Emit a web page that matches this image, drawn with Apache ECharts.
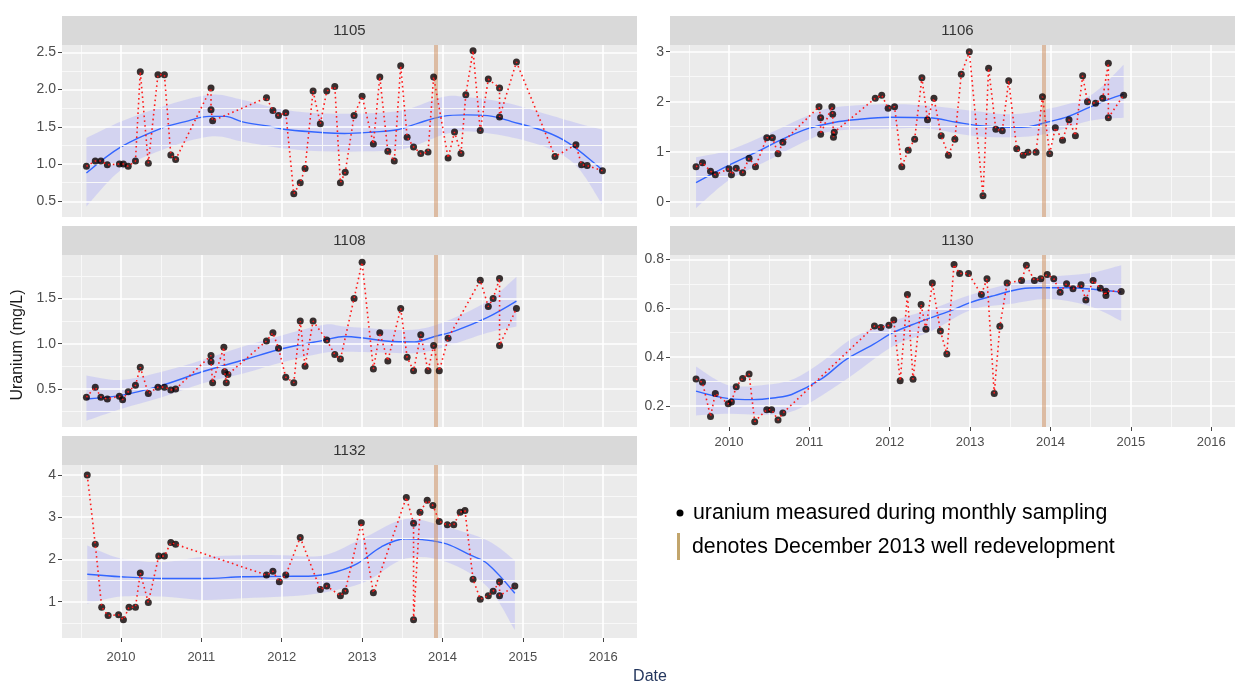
<!DOCTYPE html>
<html>
<head>
<meta charset="utf-8">
<script src="https://cdn.jsdelivr.net/npm/echarts@6/dist/echarts.min.js"></script>
<style>
  html, body { margin: 0; padding: 0; background: #ffffff; }
  #chart { width: 1235px; height: 686px; }
</style>
</head>
<body>
<div id="chart"></div>
<script>
// ---- Monthly uranium samples (decimal year, mg/L) ----
const t1105 = [2009.57,2009.68,2009.75,2009.83,2009.98,2010.03,2010.09,2010.18,2010.24,2010.34,2010.46,2010.54,2010.62,2010.68,2011.12,2011.12,2011.14,2011.81,2011.89,2011.96,2012.05,2012.15,2012.23,2012.29,2012.39,2012.48,2012.56,2012.66,2012.73,2012.79,2012.90,2013.00,2013.14,2013.22,2013.32,2013.40,2013.48,2013.56,2013.64,2013.73,2013.82,2013.89,2014.07,2014.15,2014.23,2014.29,2014.38,2014.47,2014.57,2014.71,2014.71,2014.92,2015.40,2015.66,2015.73,2015.80,2015.99];
const u1105 = [0.97,1.04,1.04,0.99,1.00,1.00,0.97,1.04,2.24,1.01,2.20,2.20,1.12,1.06,2.02,1.73,1.58,1.89,1.72,1.65,1.69,0.60,0.75,0.94,1.98,1.54,1.98,2.04,0.75,0.89,1.65,1.91,1.27,2.17,1.17,1.04,2.32,1.36,1.23,1.14,1.16,2.17,1.08,1.43,1.14,1.93,2.52,1.45,2.14,2.02,1.63,2.37,1.10,1.26,0.99,0.98,0.91];

const t1106 = [2009.59,2009.67,2009.77,2009.83,2010.00,2010.03,2010.09,2010.17,2010.25,2010.33,2010.47,2010.54,2010.61,2010.67,2011.12,2011.14,2011.14,2011.28,2011.29,2011.30,2011.31,2011.82,2011.90,2011.98,2012.06,2012.15,2012.23,2012.31,2012.40,2012.47,2012.55,2012.64,2012.73,2012.81,2012.89,2012.99,2013.16,2013.23,2013.32,2013.40,2013.48,2013.58,2013.66,2013.72,2013.82,2013.90,2013.99,2014.06,2014.15,2014.23,2014.31,2014.40,2014.46,2014.56,2014.65,2014.72,2014.72,2014.91];
const u1106 = [0.70,0.78,0.61,0.54,0.66,0.54,0.67,0.58,0.87,0.70,1.28,1.28,0.96,1.19,1.90,1.68,1.35,1.90,1.75,1.29,1.39,2.07,2.13,1.87,1.90,0.70,1.03,1.25,2.48,1.64,2.07,1.32,0.93,1.25,2.55,3.00,0.12,2.67,1.45,1.42,2.42,1.06,0.93,0.99,0.99,2.10,0.96,1.48,1.23,1.64,1.32,2.52,2.00,1.97,2.07,2.77,1.68,2.13];

const t1108 = [2009.57,2009.68,2009.75,2009.83,2009.98,2010.02,2010.09,2010.18,2010.24,2010.34,2010.46,2010.54,2010.62,2010.68,2011.12,2011.12,2011.14,2011.28,2011.29,2011.31,2011.33,2011.81,2011.89,2011.96,2012.05,2012.15,2012.23,2012.29,2012.39,2012.56,2012.66,2012.73,2012.90,2013.00,2013.14,2013.22,2013.32,2013.48,2013.56,2013.64,2013.73,2013.82,2013.89,2013.96,2014.07,2014.47,2014.57,2014.63,2014.71,2014.71,2014.92];
const u1108 = [0.41,0.52,0.41,0.39,0.42,0.38,0.47,0.54,0.74,0.45,0.52,0.52,0.49,0.50,0.87,0.80,0.57,0.96,0.69,0.57,0.66,1.03,1.12,0.95,0.63,0.57,1.25,0.75,1.25,1.04,0.88,0.83,1.50,1.90,0.72,1.12,0.81,1.39,0.85,0.70,1.10,0.70,0.98,0.70,1.06,1.70,1.41,1.50,1.72,0.98,1.39];

const t1130 = [2009.59,2009.67,2009.77,2009.83,2009.99,2010.03,2010.09,2010.17,2010.25,2010.32,2010.47,2010.53,2010.61,2010.67,2011.81,2011.89,2011.99,2012.05,2012.13,2012.22,2012.29,2012.39,2012.45,2012.53,2012.63,2012.71,2012.80,2012.87,2012.98,2013.14,2013.21,2013.30,2013.37,2013.46,2013.64,2013.70,2013.80,2013.88,2013.96,2014.04,2014.12,2014.20,2014.28,2014.38,2014.44,2014.53,2014.62,2014.69,2014.69,2014.88];
const u1130 = [0.310,0.297,0.157,0.251,0.209,0.216,0.279,0.313,0.331,0.136,0.185,0.185,0.143,0.171,0.527,0.521,0.530,0.552,0.303,0.656,0.309,0.615,0.514,0.703,0.507,0.413,0.779,0.742,0.742,0.656,0.721,0.251,0.526,0.703,0.714,0.776,0.714,0.721,0.738,0.721,0.666,0.700,0.680,0.696,0.634,0.714,0.682,0.652,0.670,0.669];

const t1132 = [2009.58,2009.68,2009.76,2009.84,2009.97,2010.03,2010.10,2010.18,2010.24,2010.34,2010.47,2010.54,2010.62,2010.68,2011.81,2011.89,2011.97,2012.05,2012.23,2012.48,2012.56,2012.73,2012.79,2012.99,2013.14,2013.55,2013.64,2013.64,2013.72,2013.81,2013.88,2013.96,2014.06,2014.14,2014.22,2014.28,2014.38,2014.47,2014.57,2014.63,2014.71,2014.71,2014.90];
const u1132 = [4.00,2.36,0.87,0.67,0.69,0.57,0.87,0.87,1.68,0.98,2.08,2.08,2.40,2.36,1.63,1.72,1.47,1.63,2.52,1.29,1.37,1.14,1.25,2.87,1.21,3.47,2.86,0.57,3.12,3.40,3.28,2.90,2.82,2.82,3.12,3.16,1.53,1.06,1.14,1.25,1.47,1.14,1.37];

// ---- Smoothed trend (loess) and its confidence band ----
const fitT1105 = [2009.57,2010.0,2010.5,2010.8,2011.1,2011.3,2011.5,2011.82,2012.08,2012.53,2012.78,2013.14,2013.44,2013.70,2014.0,2014.3,2014.56,2014.86,2015.27,2015.57,2015.99];
const fit1105  = [0.88,1.23,1.48,1.57,1.64,1.64,1.57,1.51,1.46,1.42,1.41,1.43,1.46,1.55,1.64,1.66,1.65,1.57,1.44,1.28,0.92];
const ribT1105 = [2009.57,2010.0,2010.51,2011.11,2011.52,2012.03,2012.53,2013.04,2013.54,2014.0,2014.30,2014.81,2015.32,2015.67,2015.99];
const ribLo1105 = [0.43,0.92,1.19,1.37,1.30,1.21,1.17,1.17,1.21,1.39,1.44,1.37,1.21,0.97,0.45];
const ribHi1105 = [1.35,1.57,1.77,1.93,1.86,1.73,1.68,1.68,1.73,1.90,1.90,1.82,1.66,1.55,1.46];

const fitT1106 = [2009.59,2010.0,2010.34,2010.68,2010.98,2011.32,2011.56,2012.0,2012.49,2012.83,2013.12,2013.51,2013.73,2013.95,2014.20,2014.49,2014.73,2014.91];
const fit1106  = [0.38,0.73,0.99,1.26,1.46,1.59,1.64,1.69,1.68,1.59,1.52,1.49,1.50,1.59,1.69,1.89,2.05,2.15];
const ribT1106 = [2009.59,2010.0,2010.49,2010.98,2011.32,2012.0,2012.49,2013.02,2013.51,2013.95,2014.49,2014.91];
const ribLo1106 = [-0.13,0.43,0.83,1.23,1.42,1.46,1.46,1.32,1.29,1.36,1.62,1.68];
const ribHi1106 = [0.89,1.03,1.36,1.72,1.89,1.95,1.92,1.82,1.75,1.85,2.12,2.74];

const fitT1108 = [2009.57,2010.0,2010.51,2011.01,2011.52,2012.03,2012.53,2012.78,2013.04,2013.29,2013.65,2013.90,2014.15,2014.56,2014.92];
const fit1108  = [0.39,0.43,0.54,0.69,0.82,0.95,1.04,1.08,1.06,1.03,1.02,1.08,1.14,1.29,1.47];
const ribT1108 = [2009.57,2010.0,2010.51,2011.01,2011.52,2012.03,2012.53,2012.78,2013.29,2013.70,2014.05,2014.56,2014.92];
const ribLo1108 = [0.15,0.28,0.41,0.56,0.67,0.80,0.90,0.91,0.90,0.90,0.97,1.12,1.19];
const ribHi1108 = [0.65,0.60,0.69,0.82,0.97,1.10,1.21,1.19,1.16,1.16,1.25,1.47,1.74];

const fitT1130 = [2009.59,2010.0,2010.29,2010.58,2010.78,2011.16,2011.45,2011.79,2012.04,2012.33,2012.76,2013.01,2013.30,2013.64,2013.88,2014.22,2014.56,2014.88];
const fit1130  = [0.261,0.230,0.226,0.234,0.247,0.313,0.389,0.451,0.500,0.539,0.590,0.624,0.652,0.680,0.684,0.684,0.677,0.666];
const ribT1130 = [2009.59,2010.0,2010.48,2010.82,2011.16,2011.55,2012.04,2012.52,2013.01,2013.49,2013.97,2014.46,2014.88];
const ribLo1130 = [0.161,0.168,0.164,0.182,0.244,0.330,0.445,0.507,0.593,0.617,0.638,0.611,0.548];
const ribHi1130 = [0.362,0.285,0.288,0.313,0.382,0.480,0.548,0.597,0.655,0.700,0.728,0.742,0.776];

const fitT1132 = [2009.58,2010.0,2010.51,2011.01,2011.52,2012.03,2012.38,2012.68,2012.94,2013.24,2013.54,2013.75,2014.05,2014.35,2014.56,2014.90];
const fit1132  = [1.65,1.59,1.55,1.55,1.59,1.60,1.61,1.71,1.90,2.30,2.49,2.47,2.37,2.10,1.90,1.20];
const ribT1132 = [2009.58,2010.0,2010.51,2011.01,2011.52,2012.03,2012.53,2013.04,2013.54,2014.05,2014.56,2014.90];
const ribLo1132 = [0.95,1.12,1.12,1.04,1.08,1.12,1.22,1.47,2.02,1.94,1.35,0.33];
const ribHi1132 = [2.33,2.02,1.94,2.06,2.10,2.10,2.10,2.53,2.96,2.77,2.45,1.98];

// ---- Tick labels ----
const xTickYears = [2010, 2011, 2012, 2013, 2014, 2015, 2016];
const xMinorYears = [2009.5, 2010.5, 2011.5, 2012.5, 2013.5, 2014.5, 2015.5];
const yTicks1105 = [0.5, 1.0, 1.5, 2.0, 2.5];
const yTicks1106 = [0, 1, 2, 3];
const yTicks1108 = [0.5, 1.0, 1.5];
const yTicks1130 = [0.2, 0.4, 0.6, 0.8];
const yTicks1132 = [1, 2, 3, 4];
const redevelopment = 2013.917; // December 2013 well redevelopment

// ---- Panels: data plus facet layout ----
const X_MIN = 2009.266, X_MAX = 2016.42;
const PANEL_W = 575, STRIP_H = 29;
const panels = [
  { well: '1105', t: t1105, u: u1105, fitT: fitT1105, fit: fit1105, ribT: ribT1105, ribLo: ribLo1105, ribHi: ribHi1105,
    yTicks: yTicks1105, yMinor: [0.75, 1.25, 1.75, 2.25], dec: 1,
    left: 62, top: 45, height: 172, ymin: 0.289, ymax: 2.598, showX: false, xMargin: 8 },
  { well: '1106', t: t1106, u: u1106, fitT: fitT1106, fit: fit1106, ribT: ribT1106, ribLo: ribLo1106, ribHi: ribHi1106,
    yTicks: yTicks1106, yMinor: [0.5, 1.5, 2.5], dec: 0,
    left: 670, top: 45, height: 172, ymin: -0.306, ymax: 3.134, showX: false, xMargin: 8 },
  { well: '1108', t: t1108, u: u1108, fitT: fitT1108, fit: fit1108, ribT: ribT1108, ribLo: ribLo1108, ribHi: ribHi1108,
    yTicks: yTicks1108, yMinor: [0.25, 0.75, 1.25, 1.75], dec: 1,
    left: 62, top: 255, height: 172, ymin: 0.08, ymax: 1.98, showX: false, xMargin: 8 },
  { well: '1130', t: t1130, u: u1130, fitT: fitT1130, fit: fit1130, ribT: ribT1130, ribLo: ribLo1130, ribHi: ribHi1130,
    yTicks: yTicks1130, yMinor: [0.3, 0.5, 0.7], dec: 1,
    left: 670, top: 255, height: 172, ymin: 0.114, ymax: 0.818, showX: true, xMargin: 9 },
  { well: '1132', t: t1132, u: u1132, fitT: fitT1132, fit: fit1132, ribT: ribT1132, ribLo: ribLo1132, ribHi: ribHi1132,
    yTicks: yTicks1132, yMinor: [0.5, 1.5, 2.5, 3.5], dec: 0,
    left: 62, top: 465, height: 173, ymin: 0.14, ymax: 4.237, showX: true, xMargin: 13 }
];

const FONT = "'Liberation Sans', Arial, sans-serif";
const AXIS_TEXT = '#4D4D4D';
const BAND_FILL = 'rgba(150,150,255,0.28)';

const grids = [], xAxes = [], yAxes = [], series = [], graphics = [];

panels.forEach((p, i) => {
  grids.push({
    left: p.left, top: p.top, width: PANEL_W, height: p.height,
    show: true, backgroundColor: '#EBEBEB', borderWidth: 0,
    containLabel: false, outerBoundsMode: 'none'
  });
  xAxes.push({
    gridIndex: i, type: 'value', min: X_MIN, max: X_MAX,
    axisLine: { show: false }, splitLine: { show: false },
    axisTick: { show: p.showX, customValues: xTickYears, length: 4, lineStyle: { color: '#444', width: 1 } },
    axisLabel: { show: p.showX, customValues: xTickYears, formatter: v => String(Math.round(v)),
                 color: AXIS_TEXT, fontSize: 13, fontFamily: FONT, margin: p.xMargin }
  });
  yAxes.push({
    gridIndex: i, type: 'value', min: p.ymin, max: p.ymax,
    axisLine: { show: false }, splitLine: { show: false },
    axisTick: { show: true, customValues: p.yTicks, length: 4, lineStyle: { color: '#444', width: 1 } },
    axisLabel: { show: true, customValues: p.yTicks, formatter: v => v.toFixed(p.dec),
                 color: AXIS_TEXT, fontSize: 14, fontFamily: FONT, margin: 6 }
  });

  // panel grid lines (major + minor), white on grey
  const major = { color: '#FFFFFF', width: 1.6, type: 'solid' };
  const minor = { color: '#F8F8F8', width: 1, type: 'solid' };
  series.push({
    type: 'line', xAxisIndex: i, yAxisIndex: i, data: [[X_MIN, p.ymin]], symbol: 'none',
    lineStyle: { width: 0, opacity: 0 }, silent: true, z: 1,
    markLine: {
      silent: true, symbol: ['none', 'none'], label: { show: false }, emphasis: { disabled: true },
      animation: false, lineStyle: { type: 'solid' },
      data: [
        ...xMinorYears.map(v => ({ xAxis: v, lineStyle: minor })),
        ...p.yMinor.map(v => ({ yAxis: v, lineStyle: minor })),
        ...xTickYears.map(v => ({ xAxis: v, lineStyle: major })),
        ...p.yTicks.map(v => ({ yAxis: v, lineStyle: major }))
      ]
    }
  });

  // confidence band drawn as one closed shape through the axis scales
  series.push({
    type: 'custom', xAxisIndex: i, yAxisIndex: i, silent: true, z: 2,
    data: p.ribT.map((x, k) => [x, p.ribLo[k], p.ribHi[k]]),
    encode: { x: 0, y: [1, 2] },
    renderItem: (params, api) => {
      if (params.dataIndex !== 0) return null;
      const upper = p.ribT.map((x, k) => api.coord([x, p.ribHi[k]]));
      const lower = p.ribT.map((x, k) => api.coord([x, p.ribLo[k]])).reverse();
      const rect = params.coordSys;
      return {
        type: 'group',
        clipPath: { type: 'rect', shape: { x: rect.x, y: rect.y, width: rect.width, height: rect.height } },
        children: [
          { type: 'path', shape: { pathData: bandPath(upper, lower) }, style: { fill: BAND_FILL } }
        ]
      };
    }
  });

  // redevelopment marker
  series.push({
    type: 'line', xAxisIndex: i, yAxisIndex: i, data: [[X_MIN, p.ymin]], symbol: 'none',
    lineStyle: { width: 0, opacity: 0 }, silent: true, z: 3,
    markLine: {
      silent: true, symbol: ['none', 'none'], label: { show: false }, emphasis: { disabled: true },
      animation: false,
      lineStyle: { type: 'solid', color: 'rgba(205,140,90,0.5)', width: 4 },
      data: [{ xAxis: redevelopment }]
    }
  });

  // loess trend
  series.push({
    type: 'line', xAxisIndex: i, yAxisIndex: i, data: p.fitT.map((x, k) => [x, p.fit[k]]),
    symbol: 'none', smooth: 0.35, lineStyle: { color: '#3366FF', width: 1.4 }, silent: true, z: 4
  });

  // samples
  series.push({
    type: 'scatter', xAxisIndex: i, yAxisIndex: i, data: p.t.map((x, k) => [x, p.u[k]]),
    symbol: 'circle', symbolSize: 7, itemStyle: { color: '#0A0000' }, silent: true, z: 5
  });
  series.push({
    type: 'line', xAxisIndex: i, yAxisIndex: i, data: p.t.map((x, k) => [x, p.u[k]]),
    symbol: 'none', lineStyle: { color: '#FF1A1A', width: 1.6, type: [1.6, 3.2] }, silent: true, z: 6
  });

  // facet strip
  graphics.push({
    type: 'rect', x: p.left, y: p.top - STRIP_H, shape: { x: 0, y: 0, width: PANEL_W, height: STRIP_H },
    style: { fill: '#D9D9D9' }, silent: true
  });
  graphics.push({
    type: 'text', x: p.left + PANEL_W / 2, y: p.top - STRIP_H / 2,
    style: { text: p.well, fill: '#333333', font: '15px ' + FONT, textAlign: 'center', textVerticalAlign: 'middle' },
    silent: true
  });
});

// Smooth closed outline: Catmull-Rom curves along the upper edge, straight end caps,
// Catmull-Rom back along the lower edge.
function curveTo(pts) {
  let d = '';
  for (let k = 0; k < pts.length - 1; k++) {
    const p0 = pts[Math.max(k - 1, 0)], p1 = pts[k], p2 = pts[k + 1], p3 = pts[Math.min(k + 2, pts.length - 1)];
    const c1 = [p1[0] + (p2[0] - p0[0]) / 6, p1[1] + (p2[1] - p0[1]) / 6];
    const c2 = [p2[0] - (p3[0] - p1[0]) / 6, p2[1] - (p3[1] - p1[1]) / 6];
    d += ' C' + c1[0] + ' ' + c1[1] + ' ' + c2[0] + ' ' + c2[1] + ' ' + p2[0] + ' ' + p2[1];
  }
  return d;
}
function bandPath(upper, lower) {
  return 'M' + upper[0][0] + ' ' + upper[0][1] + curveTo(upper) +
         ' L' + lower[0][0] + ' ' + lower[0][1] + curveTo(lower) + ' Z';
}

// axis titles
graphics.push({
  type: 'text', x: 18, y: 345, rotation: Math.PI / 2,
  style: { text: 'Uranium (mg/L)', fill: '#1A1A1A', font: '16px ' + FONT, textAlign: 'center', textVerticalAlign: 'middle' },
  silent: true
});
graphics.push({
  type: 'text', x: 650, y: 677,
  style: { text: 'Date', fill: '#23365E', font: '16px ' + FONT, textAlign: 'center', textVerticalAlign: 'middle' },
  silent: true
});

// key
graphics.push({ type: 'circle', x: 680, y: 513, shape: { cx: 0, cy: 0, r: 3.5 }, style: { fill: '#000000' }, silent: true });
graphics.push({
  type: 'text', x: 693, y: 513,
  style: { text: 'uranium measured during monthly sampling', fill: '#000000', font: '21.3px ' + FONT, textAlign: 'left', textVerticalAlign: 'middle' },
  silent: true
});
graphics.push({ type: 'rect', x: 677, y: 533, shape: { x: 0, y: 0, width: 3, height: 27 }, style: { fill: '#C2A56C' }, silent: true });
graphics.push({
  type: 'text', x: 692, y: 547,
  style: { text: 'denotes December 2013 well redevelopment', fill: '#000000', font: '21.3px ' + FONT, textAlign: 'left', textVerticalAlign: 'middle' },
  silent: true
});

const chart = echarts.init(document.getElementById('chart'), null, { renderer: 'canvas' });
chart.setOption({
  animation: false,
  backgroundColor: '#FFFFFF',
  textStyle: { fontFamily: FONT },
  grid: grids,
  xAxis: xAxes,
  yAxis: yAxes,
  series: series,
  graphic: graphics
});
</script>
</body>
</html>
